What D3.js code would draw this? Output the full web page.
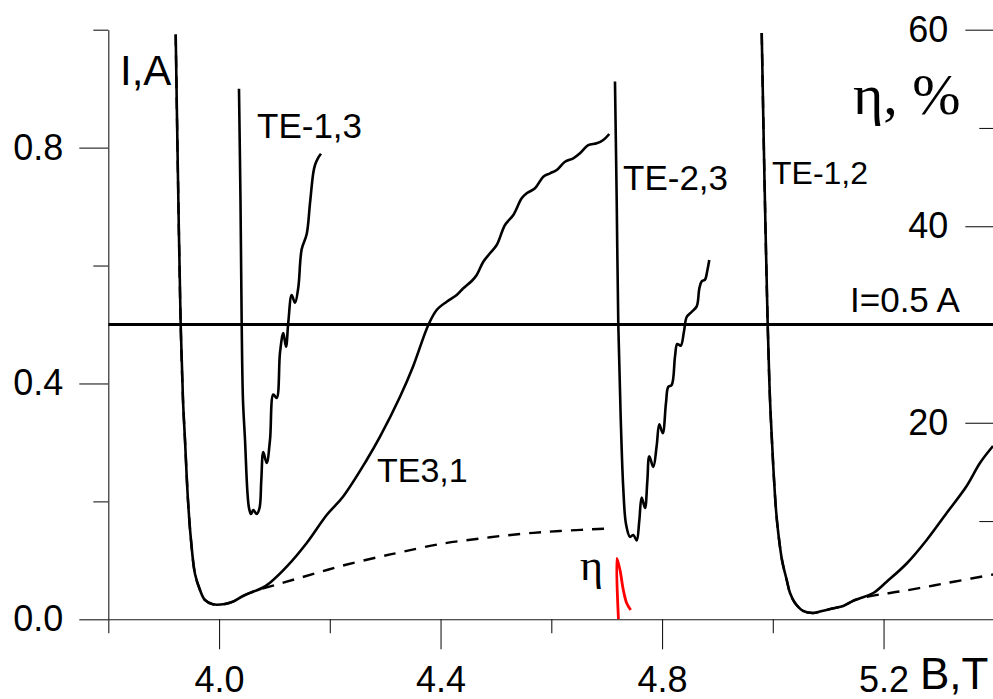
<!DOCTYPE html>
<html>
<head>
<meta charset="utf-8">
<script src="https://cdn.jsdelivr.net/npm/d3@7"></script>
<style>
  html, body { margin: 0; padding: 0; background: #fff; }
  svg { display: block; }
  text { font-family: "Liberation Sans", Arial, sans-serif; fill: #000; }
  .serif { font-family: "Liberation Serif", "Times New Roman", serif; }
</style>
</head>
<body>
<svg id="chart" width="993" height="699"></svg>
<script>
// Magnetic field B (T) vs. collector current I (A) and efficiency eta (%)

// Axis ticks
const bTicksMajor = [4.0, 4.4, 4.8, 5.2];
const bTicksMinor = [3.8, 4.2, 4.6, 5.0];
const iTicksMajor = [0.0, 0.4, 0.8];
const iTicksMinor = [0.2, 0.6, 1.0];
const etaTicksMajor = [20, 40, 60];
const etaTicksMinor = [10, 30, 50];

// Reference current level
const currentLevel = 0.5;

// First resonance: steep descent into the minimum [B, I]
const descent1 = [
  [3.9217, 0.992], [3.9259, 0.745], [3.9307, 0.500], [3.9349, 0.372],
  [3.9385, 0.304], [3.9439, 0.202], [3.9493, 0.1345], [3.9566, 0.0768],
  [3.9656, 0.0497], [3.9746, 0.0327], [3.9891, 0.0254], [4.0107, 0.026],
  [4.0252, 0.0299], [4.0432, 0.0395], [4.0613, 0.0468]
];

// TE3,1 rising branch (measured)
const te31Rise = [
  [4.0776, 0.0531], [4.092, 0.0621], [4.1222, 0.0892], [4.1583, 0.1294],
  [4.1944, 0.1769], [4.2238, 0.2079], [4.2666, 0.2702], [4.2907, 0.3097],
  [4.3268, 0.3775], [4.3502, 0.4284], [4.3779, 0.4992], [4.393, 0.5246],
  [4.4111, 0.5387], [4.4292, 0.55], [4.4411, 0.5614], [4.4563, 0.5738],
  [4.4653, 0.584], [4.4772, 0.6065], [4.4893, 0.6208], [4.5014, 0.6348],
  [4.5164, 0.6688], [4.5314, 0.6857], [4.5465, 0.714], [4.5556, 0.7225],
  [4.5706, 0.731], [4.5856, 0.7507], [4.5977, 0.7564], [4.6098, 0.762],
  [4.6247, 0.7761], [4.6397, 0.7819], [4.6518, 0.7904], [4.6668, 0.8044],
  [4.682, 0.8073], [4.6939, 0.8129], [4.7047, 0.8231]
];

// Dashed branch following the first minimum
const dashedTail1 = [
  [4.116, 0.0621], [4.1733, 0.0777], [4.2274, 0.0921], [4.2907, 0.1062],
  [4.3327, 0.1147], [4.399, 0.1277], [4.4712, 0.137], [4.5435, 0.1447],
  [4.6157, 0.1498], [4.706, 0.154]
];

// TE-1,3 resonance
const te13 = [
  [4.036, 0.8998], [4.0387, 0.7112], [4.0409, 0.500], [4.0432, 0.3719],
  [4.0469, 0.3041], [4.051, 0.2193], [4.0541, 0.1888], [4.0577, 0.1786],
  [4.0618, 0.1854], [4.068, 0.1786], [4.0731, 0.1888], [4.0763, 0.2363],
  [4.0799, 0.2837], [4.086, 0.2651], [4.092, 0.3041], [4.098, 0.3813],
  [4.1041, 0.3753], [4.1101, 0.4527], [4.116, 0.4856], [4.1209, 0.4623],
  [4.1251, 0.5042], [4.1312, 0.55], [4.1372, 0.5368], [4.1431, 0.5628],
  [4.1492, 0.6275], [4.1583, 0.6535], [4.1642, 0.7054], [4.1702, 0.7573],
  [4.1733, 0.7705], [4.1792, 0.7831], [4.1841, 0.7897]
];

// TE-2,3 resonance
const te23 = [
  [4.715, 0.9123], [4.7181, 0.7112], [4.721, 0.4995], [4.7253, 0.3431],
  [4.73, 0.2217], [4.7349, 0.1616], [4.7421, 0.1399], [4.7481, 0.143],
  [4.7542, 0.1338], [4.7589, 0.1672], [4.7632, 0.2066], [4.7692, 0.1888],
  [4.7734, 0.2339], [4.777, 0.2763], [4.7842, 0.2583], [4.7903, 0.2944],
  [4.795, 0.3307], [4.8012, 0.3156], [4.8071, 0.367], [4.8113, 0.3943],
  [4.8174, 0.3974], [4.8234, 0.4459], [4.8275, 0.4669], [4.8337, 0.464],
  [4.8396, 0.4883], [4.8445, 0.5127], [4.8535, 0.5215], [4.8626, 0.5307],
  [4.8673, 0.5609], [4.8716, 0.5731], [4.8776, 0.5761], [4.8817, 0.5913],
  [4.8853, 0.6094]
];

// TE-1,2 resonance: descent and minimum
const descent2 = [
  [4.98, 0.9944], [4.985, 0.745], [4.9908, 0.500], [4.995, 0.3719],
  [5.0009, 0.2588], [5.0058, 0.1854], [5.0099, 0.1464], [5.0166, 0.1006],
  [5.0251, 0.0667], [5.0311, 0.0446], [5.0401, 0.0276], [5.0551, 0.0141],
  [5.0731, 0.0107], [5.0912, 0.0146], [5.1093, 0.0187], [5.1273, 0.0226],
  [5.1454, 0.0315], [5.1575, 0.0358]
];

// TE-1,2 rising branch (measured)
const te12Rise = [
  [5.1815, 0.0446], [5.2057, 0.0638], [5.2418, 0.0946], [5.2779, 0.1345],
  [5.314, 0.1803], [5.3501, 0.2261], [5.3741, 0.2651], [5.3977, 0.2939]
];

// Dashed branch following the second minimum
const dashedTail2 = [
  [5.1936, 0.0421], [5.2297, 0.0472], [5.2785, 0.0553], [5.3291, 0.0641],
  [5.3977, 0.076]
];

// Efficiency eta (%) vs B
const etaCurve = [
  [4.7213, 0.0], [4.7185, 6.2], [4.7241, 5.0], [4.73, 3.0],
  [4.7362, 1.63], [4.7434, 0.95]
];

// ---- layout ----
const W = 993, H = 699;
const mLeft = 108.3, mBottom = 619.3, mTop = 29.7;
const svg = d3.select("#chart");

const x = d3.scaleLinear().domain([3.8, 5.4]).range([mLeft, 994.3]);
const yI = d3.scaleLinear().domain([0, 1]).range([mBottom, mTop]);
const yEta = d3.scaleLinear().domain([0, 60]).range([mBottom, mTop]);

const tickFont = 36;

function styleAxis(g) {
  g.selectAll("path.domain").attr("stroke", "#1a1a1a").attr("stroke-width", 1.1);
  g.selectAll(".tick line").attr("stroke", "#1a1a1a").attr("stroke-width", 1.1);
  g.selectAll(".tick text")
    .attr("fill", "#000")
    .style("font-family", '"Liberation Sans", Arial, sans-serif')
    .style("font-size", tickFont + "px");
}

// Left axis (I, A)
svg.append("g").attr("transform", `translate(${mLeft},0)`)
  .call(d3.axisLeft(yI).tickValues(iTicksMinor).tickSize(15).tickSizeOuter(0).tickFormat(""))
  .call(styleAxis);
svg.append("g").attr("transform", `translate(${mLeft},0)`)
  .call(d3.axisLeft(yI).tickValues(iTicksMajor).tickSize(29).tickPadding(16)
    .tickSizeOuter(0).tickFormat(d3.format(".1f")))
  .call(styleAxis)
  .call(g => g.select("path.domain").remove());

// Bottom axis (B, T)
svg.append("g").attr("transform", `translate(0,${mBottom})`)
  .call(d3.axisBottom(x).tickValues(bTicksMinor).tickSize(14).tickSizeOuter(0).tickFormat(""))
  .call(styleAxis);
svg.append("g").attr("transform", `translate(0,${mBottom})`)
  .call(d3.axisBottom(x).tickValues(bTicksMajor).tickSize(30).tickPadding(17)
    .tickSizeOuter(0).tickFormat(d3.format(".1f")))
  .call(styleAxis)
  .call(g => g.select("path.domain").remove());

// Right axis (eta, %) with inward ticks
svg.append("g").attr("transform", `translate(994.3,0)`)
  .call(d3.axisLeft(yEta).tickValues(etaTicksMinor).tickSize(15).tickSizeOuter(0).tickFormat(""))
  .call(styleAxis)
  .call(g => g.select("path.domain").remove());
svg.append("g").attr("transform", `translate(994.3,0)`)
  .call(d3.axisLeft(yEta).tickValues(etaTicksMajor).tickSize(29).tickPadding(17)
    .tickSizeOuter(0).tickFormat(d3.format("d")))
  .call(styleAxis)
  .call(g => g.select("path.domain").remove());

// Plot clip
svg.append("clipPath").attr("id", "plot")
  .append("rect").attr("x", mLeft).attr("y", 0).attr("width", W - mLeft).attr("height", mBottom);

const plot = svg.append("g").attr("clip-path", "url(#plot)");

const lineI = d3.line().x(d => x(d[0])).y(d => yI(d[1])).curve(d3.curveCatmullRom.alpha(0.5));
const lineEta = d3.line().x(d => x(d[0])).y(d => yEta(d[1])).curve(d3.curveCatmullRom.alpha(0.5));

// Reference level I = 0.5 A
plot.append("path")
  .attr("d", d3.line()([[x(3.8), yI(currentLevel)], [x(5.4), yI(currentLevel)]]))
  .attr("stroke", "#000").attr("stroke-width", 3).attr("fill", "none");

// Dashed branches
[descent1.concat(dashedTail1), descent2.concat(dashedTail2)].forEach(d => {
  plot.append("path").attr("d", lineI(d))
    .attr("fill", "none").attr("stroke", "#000")
    .attr("stroke-width", 2.4).attr("stroke-dasharray", "12,9");
});

// Measured current curves
[descent1.concat(te31Rise), te13, te23, descent2.concat(te12Rise)].forEach(d => {
  plot.append("path").attr("d", lineI(d))
    .attr("fill", "none").attr("stroke", "#000")
    .attr("stroke-width", 2.6).attr("stroke-linejoin", "round");
});

// Efficiency
plot.append("path").attr("d", lineEta(etaCurve))
  .attr("fill", "none").attr("stroke", "#ff0000").attr("stroke-width", 2.8);

// Labels
const labels = svg.append("g");
labels.append("text").attr("x", 120).attr("y", 85).style("font-size", "42px").text("I,A");
labels.append("text").attr("x", 257).attr("y", 138).style("font-size", "35px").text("TE-1,3");
labels.append("text").attr("x", 377).attr("y", 482).style("font-size", "34px").text("TE3,1");
labels.append("text").attr("x", 623).attr("y", 190).style("font-size", "35px").text("TE-2,3");
labels.append("text").attr("x", 772).attr("y", 184).style("font-size", "32px").text("TE-1,2");
labels.append("text").attr("x", 850).attr("y", 312).style("font-size", "35px").text("I=0.5 A");
labels.append("text").attr("class", "serif").attr("x", 853).attr("y", 114).style("font-size", "58px").text("η, %");
labels.append("text").attr("class", "serif").attr("x", 580).attr("y", 580).style("font-size", "44px").text("η");
labels.append("text").attr("x", 920).attr("y", 689).style("font-size", "44px").text("B,T");
</script>
</body>
</html>
